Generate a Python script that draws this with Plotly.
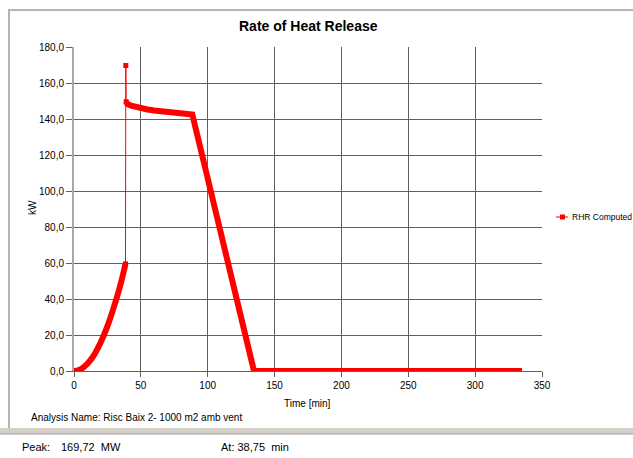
import plotly.graph_objects as go

# ---- data ----
time_growth = [0, 1, 2, 3, 4, 5, 6, 7, 8, 10, 12, 14, 16, 18, 20, 22, 24, 26, 28, 30, 32, 34, 36, 38.5]
rhr_growth = [0.0, 0.05, 0.2, 0.4, 0.6, 1.0, 1.4, 2.0, 2.6, 4.0, 5.8, 7.8, 10.2, 13.0, 16.0, 19.4,
              23.0, 27.0, 31.3, 36.0, 40.8, 46.0, 51.6, 59.5]

time_peak = [38.5, 38.75, 39.0]
rhr_peak = [59.5, 169.72, 149.6]

time_decay = [39.0, 40, 42, 45, 50, 55, 60, 65, 70, 75, 80, 85, 88.5, 100, 110, 120, 134.6, 150, 200, 250, 300, 335]
rhr_decay = [149.6, 148.3, 147.6, 146.9, 146.0, 145.3, 144.7, 144.2, 143.7, 143.3, 143.0, 142.7, 142.5,
             107.0, 76.0, 45.0, 0.0, 0.0, 0.0, 0.0, 0.0, 0.0]

y_ticks = [0, 20, 40, 60, 80, 100, 120, 140, 160, 180]
y_tick_labels = ["0,0", "20,0", "40,0", "60,0", "80,0", "100,0", "120,0", "140,0", "160,0", "180,0"]
x_ticks = [0, 50, 100, 150, 200, 250, 300, 350]

series_name = "RHR Computed"
peak_value = "169,72"
peak_time = "38,75"

RED = "#ff0000"
FONT = "Liberation Sans, Arial, sans-serif"
GRID = "#606060"

fig = go.Figure()

# thick body of the curve (densely plotted markers in the original)
fig.add_trace(go.Scatter(x=time_growth, y=rhr_growth, mode="lines", line_shape="spline",
                         line=dict(color=RED, width=6), showlegend=False, hoverinfo="skip"))
fig.add_trace(go.Scatter(x=time_decay, y=rhr_decay, mode="lines",
                         line=dict(color=RED, width=6), showlegend=False, hoverinfo="skip"))
# thin spike to peak
fig.add_trace(go.Scatter(x=time_peak, y=rhr_peak, mode="lines+markers", name=series_name,
                         line=dict(color=RED, width=1), showlegend=False,
                         marker=dict(symbol="square", size=5, color=RED)))

W, H = 633, 458
L, R, T, B = 74, 542, 47, 371


def px(xp):
    return (xp - L) / (R - L)


def py(yp):
    return (B - yp) / (B - T)


shapes = [
    # outer frame: top and left light-grey lines
    dict(type="line", xref="paper", yref="paper", x0=px(8), x1=px(640), y0=py(10), y1=py(10),
         line=dict(color="#b8b4ac", width=2)),
    dict(type="line", xref="paper", yref="paper", x0=px(9), x1=px(9), y0=py(9), y1=py(429),
         line=dict(color="#b8b4ac", width=2)),
    # bottom separator band
    dict(type="rect", xref="paper", yref="paper", x0=px(-5), x1=px(640), y0=py(428), y1=py(434),
         fillcolor="#d4d0c8", line=dict(width=0)),
    dict(type="line", xref="paper", yref="paper", x0=px(-5), x1=px(640), y0=py(434), y1=py(434),
         line=dict(color="#a0a0a0", width=1)),
    # legend symbol
    dict(type="line", xref="paper", yref="paper", x0=px(556), x1=px(568), y0=py(217), y1=py(217),
         line=dict(color=RED, width=1)),
    dict(type="rect", xref="paper", yref="paper", x0=px(560), x1=px(565), y0=py(214.5), y1=py(219.5),
         fillcolor=RED, line=dict(width=0)),
]

annotations = [
    dict(text="<b>Rate of Heat Release</b>", xref="paper", yref="paper", x=px(308), y=py(26),
         showarrow=False, font=dict(family=FONT, size=14, color="#000000"), xanchor="center", yanchor="middle"),
    dict(text="kW", xref="paper", yref="paper", x=px(32), y=py(208), textangle=-90,
         showarrow=False, font=dict(family=FONT, size=10, color="#000000"), xanchor="center", yanchor="middle"),
    dict(text="Time [min]", xref="paper", yref="paper", x=px(307), y=py(403),
         showarrow=False, font=dict(family=FONT, size=10, color="#000000"), xanchor="center", yanchor="middle"),
    dict(text="Analysis Name: Risc Baix 2- 1000 m2 amb vent", xref="paper", yref="paper", x=px(29), y=py(417),
         showarrow=False, font=dict(family=FONT, size=10, color="#000000"), xanchor="left", yanchor="middle"),
    dict(text=series_name, xref="paper", yref="paper", x=px(570), y=py(217),
         showarrow=False, font=dict(family=FONT, size=8.5, color="#000000"), xanchor="left", yanchor="middle"),
    dict(text="Peak:", xref="paper", yref="paper", x=px(20), y=py(447),
         showarrow=False, font=dict(family=FONT, size=11, color="#000000"), xanchor="left", yanchor="middle"),
    dict(text=peak_value + "  MW", xref="paper", yref="paper", x=px(59), y=py(447),
         showarrow=False, font=dict(family=FONT, size=11, color="#000000"), xanchor="left", yanchor="middle"),
    dict(text="At: " + peak_time + "  min", xref="paper", yref="paper", x=px(219), y=py(447),
         showarrow=False, font=dict(family=FONT, size=11, color="#000000"), xanchor="left", yanchor="middle"),
]

fig.update_layout(
    width=W, height=H,
    margin=dict(l=L, r=W - R, t=T, b=H - B, pad=0),
    paper_bgcolor="#ffffff", plot_bgcolor="#ffffff",
    font=dict(family=FONT, size=10, color="#000000"),
    shapes=shapes, annotations=annotations,
    showlegend=False,
    xaxis=dict(range=[0, 350], tickvals=x_ticks, ticktext=[str(v) for v in x_ticks],
               showgrid=True, gridcolor=GRID, gridwidth=1,
               ticks="outside", ticklen=5, tickcolor=GRID,
               showline=True, linecolor=GRID, mirror=False, zeroline=False,
               tickfont=dict(family=FONT, size=10), fixedrange=True),
    yaxis=dict(range=[0, 180], tickvals=y_ticks, ticktext=y_tick_labels,
               showgrid=True, gridcolor=GRID, gridwidth=1,
               ticks="outside", ticklen=6, tickcolor=GRID,
               showline=True, linecolor="#a8a8a8", linewidth=2, zeroline=False,
               tickfont=dict(family=FONT, size=10), fixedrange=True),
)

fig.write_html("out.html", config={"displayModeBar": False},
               post_script="document.body.style.margin='0';document.body.style.overflow='hidden';")
